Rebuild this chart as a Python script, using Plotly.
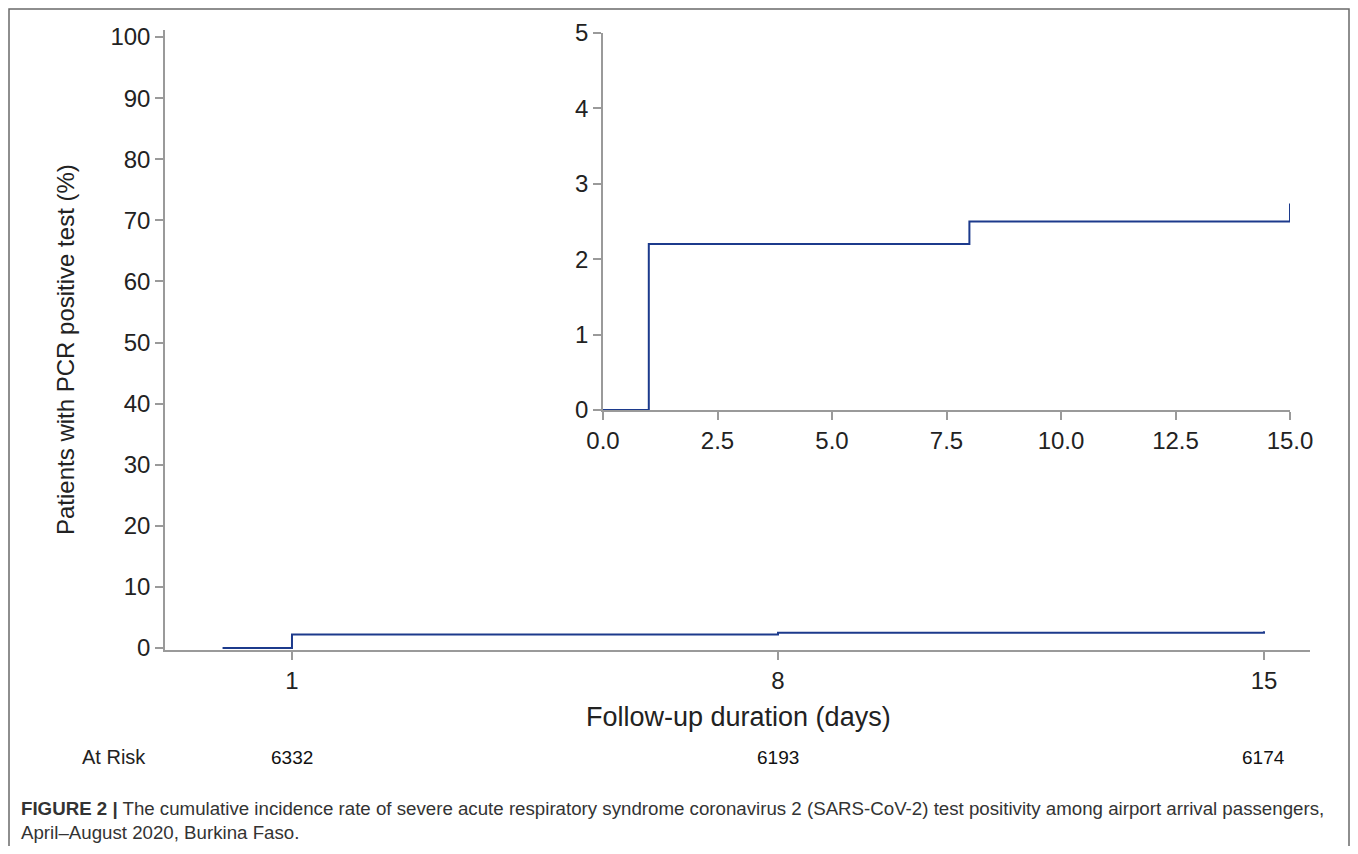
import plotly.graph_objects as go

# Data
days = [0, 1, 1, 8, 8, 15, 15]
cum_incidence = [0, 0, 2.2, 2.2, 2.5, 2.5, 2.74]
main_ticks = [1, 8, 15]
at_risk = [6332, 6193, 6174]
main_yticks = [0, 10, 20, 30, 40, 50, 60, 70, 80, 90, 100]
inset_xticks = [0, 2.5, 5, 7.5, 10, 12.5, 15]
inset_xticklabels = ["0.0", "2.5", "5.0", "7.5", "10.0", "12.5", "15.0"]
inset_yticks = [0, 1, 2, 3, 4, 5]

OFF = 8
W, H = 1342, 838
def px(x): return (x - OFF) / W
def py(y): return 1 - (y - OFF) / H

LINE = "#1c3a8c"
AX = "#9a9a9a"
FONT = "Liberation Sans, Arial, sans-serif"
TXT = "#222222"

fig = go.Figure()
fig.add_trace(go.Scatter(x=days, y=cum_incidence, mode="lines",
                         line=dict(color=LINE, width=2), xaxis="x", yaxis="y",
                         showlegend=False, hoverinfo="skip"))
fig.add_trace(go.Scatter(x=days, y=cum_incidence, mode="lines",
                         line=dict(color=LINE, width=2), xaxis="x2", yaxis="y2",
                         showlegend=False, hoverinfo="skip", cliponaxis=False))

axcommon = dict(showline=True, linecolor=AX, linewidth=1.5, ticks="outside",
                tickcolor=AX, ticklen=8, tickwidth=1.5, showgrid=False, zeroline=False,
                automargin=False,
                tickfont=dict(family=FONT, size=24, color=TXT))

fig.update_layout(
    width=W, height=H, autosize=False,
    margin=dict(l=0, r=0, t=0, b=0, pad=0, autoexpand=False),
    paper_bgcolor="white", plot_bgcolor="rgba(0,0,0,0)",
    xaxis=dict(domain=[px(165), px(1310)], range=[-0.829, 15.663],
               tickvals=main_ticks, ticktext=[str(t) for t in main_ticks],
               anchor="y", **axcommon),
    yaxis=dict(domain=[py(650), py(30)], range=[-0.33, 101.15],
               tickvals=main_yticks, anchor="x", **axcommon),
    xaxis2=dict(domain=[px(603), px(1290)], range=[0, 15],
                tickvals=inset_xticks, ticktext=inset_xticklabels,
                anchor="y2", **axcommon),
    yaxis2=dict(domain=[py(410), py(33)], range=[0, 5],
                tickvals=inset_yticks, anchor="x2", **axcommon),
)

ann = []
ann.append(dict(text="Patients with PCR positive test (%)", x=px(66), y=py(350),
                xanchor="center", yanchor="middle",
                xref="paper", yref="paper", showarrow=False, textangle=-90,
                font=dict(family=FONT, size=24, color=TXT)))
ann.append(dict(text="Follow-up duration (days)", x=px(738), y=py(717),
                xanchor="center", yanchor="middle",
                xref="paper", yref="paper", showarrow=False,
                font=dict(family=FONT, size=27, color=TXT)))
ann.append(dict(text="At Risk", x=px(80), y=py(757), xanchor="left", yanchor="middle",
                xref="paper", yref="paper", showarrow=False,
                font=dict(family=FONT, size=20, color=TXT)))
for d, n in zip(main_ticks, at_risk):
    ann.append(dict(text=str(n), x=d, y=py(757), xref="x", yref="paper",
                    xanchor="center", yanchor="middle",
                    showarrow=False, font=dict(family=FONT, size=19, color="#111111")))
ann.append(dict(
    text="<b>FIGURE 2 |</b> The cumulative incidence rate of severe acute respiratory syndrome coronavirus 2 (SARS-CoV-2) test positivity among airport arrival passengers,<br>April–August 2020, Burkina Faso.",
    x=px(19), y=py(820), xanchor="left", yanchor="middle", align="left",
    xref="paper", yref="paper", showarrow=False,
    font=dict(family=FONT, size=18.7, color="#333333")))
fig.update_layout(annotations=ann)

fig.add_shape(type="rect", xref="paper", yref="paper",
              x0=px(9), x1=px(1349), y0=py(900), y1=py(9),
              line=dict(color="#6a6a6a", width=1.5), layer="below")

fig.write_html("out.html")
